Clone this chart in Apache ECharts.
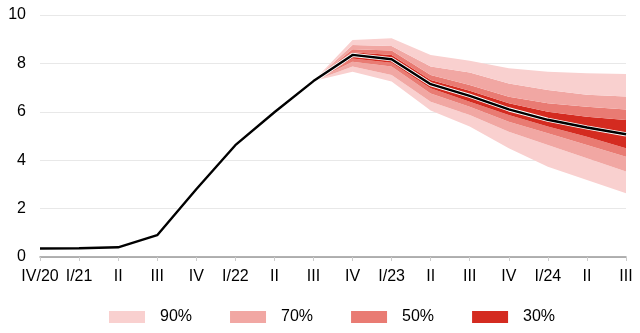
<!DOCTYPE html>
<html>
<head>
<meta charset="utf-8">
<script src="https://cdn.jsdelivr.net/npm/echarts@6/dist/echarts.min.js"></script>
<style>html,body{margin:0;padding:0;background:#fff}#c{width:640px;height:333px}</style>
</head>
<body>
<div id="c"></div>
<script>
var categories = ['IV/20','I/21','II','III','IV','I/22','II','III','IV','I/23','II','III','IV','I/24','II','III'];
var lineVals = [0.35,0.36,0.4,0.9,2.8,4.62,5.98,7.27,8.35,8.17,7.14,6.66,6.1,5.67,5.35,5.07];
var fanStart = 7;
var p90hi = [7.27, 8.97, 9.04, 8.35, 8.11, 7.8, 7.66, 7.59, 7.56];
var p70hi = [7.27, 8.76, 8.72, 7.87, 7.62, 7.17, 6.9, 6.7, 6.63];
var p50hi = [7.27, 8.58, 8.53, 7.52, 7.11, 6.62, 6.35, 6.21, 6.1];
var p30hi = [7.27, 8.46, 8.35, 7.31, 6.87, 6.35, 6.0, 5.8, 5.66];
var p30lo = [7.27, 8.2, 8.03, 6.97, 6.42, 5.87, 5.39, 4.97, 4.49];
var p50lo = [7.27, 8.07, 7.87, 6.76, 6.21, 5.59, 5.11, 4.63, 4.14];
var p70lo = [7.27, 7.87, 7.52, 6.42, 5.87, 5.18, 4.63, 4.08, 3.53];
var p90lo = [7.27, 7.66, 7.25, 6.05, 5.39, 4.49, 3.73, 3.18, 2.63];
var bandNames = ['90%','70%','50%','30%'];
var colors = {'90%':'#f9d0cf','70%':'#f1a7a3','50%':'#e97b73','30%':'#d42b20'};

function pad(arr){ var out=[]; for(var i=0;i<fanStart;i++) out.push(null); return out.concat(arr); }
function diff(a,b){ return a.map(function(v,i){ return +(v-b[i]).toFixed(4); }); }

var layers = [
  {name:'base', data:p90lo, color:'transparent'},
  {name:'90%', data:diff(p70lo,p90lo)},
  {name:'70%', data:diff(p50lo,p70lo)},
  {name:'50%', data:diff(p30lo,p50lo)},
  {name:'30%', data:diff(p30hi,p30lo)},
  {name:'50%', data:diff(p50hi,p30hi)},
  {name:'70%', data:diff(p70hi,p50hi)},
  {name:'90%', data:diff(p90hi,p70hi)}
];

var series = layers.map(function(l){
  var c = l.color || colors[l.name];
  return {
    name: l.name, type:'line', stack:'fan', data: pad(l.data),
    symbol:'none', silent:true, lineStyle:{width:0, opacity:0},
    itemStyle:{color:c},
    areaStyle: l.name==='base' ? {opacity:0} : {color:c, opacity:1},
    z:1
  };
});
series.push({type:'line', data:lineVals, symbol:'none', silent:true, lineStyle:{color:'#ffffff', width:4.2}, z:3});
series.push({type:'line', data:lineVals, symbol:'none', silent:true, lineStyle:{color:'#000000', width:2.4}, z:4});

var chart = echarts.init(document.getElementById('c'), null, {renderer:'canvas'});
chart.setOption({
  animation:false,
  textStyle:{fontFamily:'Liberation Sans, Arial, sans-serif'},
  grid:{left:40, right:14, top:15, bottom:76},
  legend:{
    data:bandNames, left:104, bottom:3, icon:'rect', itemWidth:36, itemHeight:12, itemGap:38,
    selectedMode:false,
    textStyle:{fontSize:16, color:'#000', padding:[0,0,0,10], fontFamily:'Liberation Sans, Arial, sans-serif'}
  },
  xAxis:{
    type:'category', data:categories, boundaryGap:false,
    axisLine:{lineStyle:{color:'#999', width:1.5}},
    axisTick:{show:true, length:4, lineStyle:{color:'#ccc'}},
    axisLabel:{color:'#000', fontSize:16, margin:12, interval:0},
    splitLine:{show:false}
  },
  yAxis:{
    type:'value', min:0, max:10, interval:2,
    axisLine:{show:false}, axisTick:{show:false},
    axisLabel:{color:'#000', fontSize:16, margin:14},
    splitLine:{lineStyle:{color:'#e8e8e8', width:1}}
  },
  series:series
});
</script>
</body>
</html>
